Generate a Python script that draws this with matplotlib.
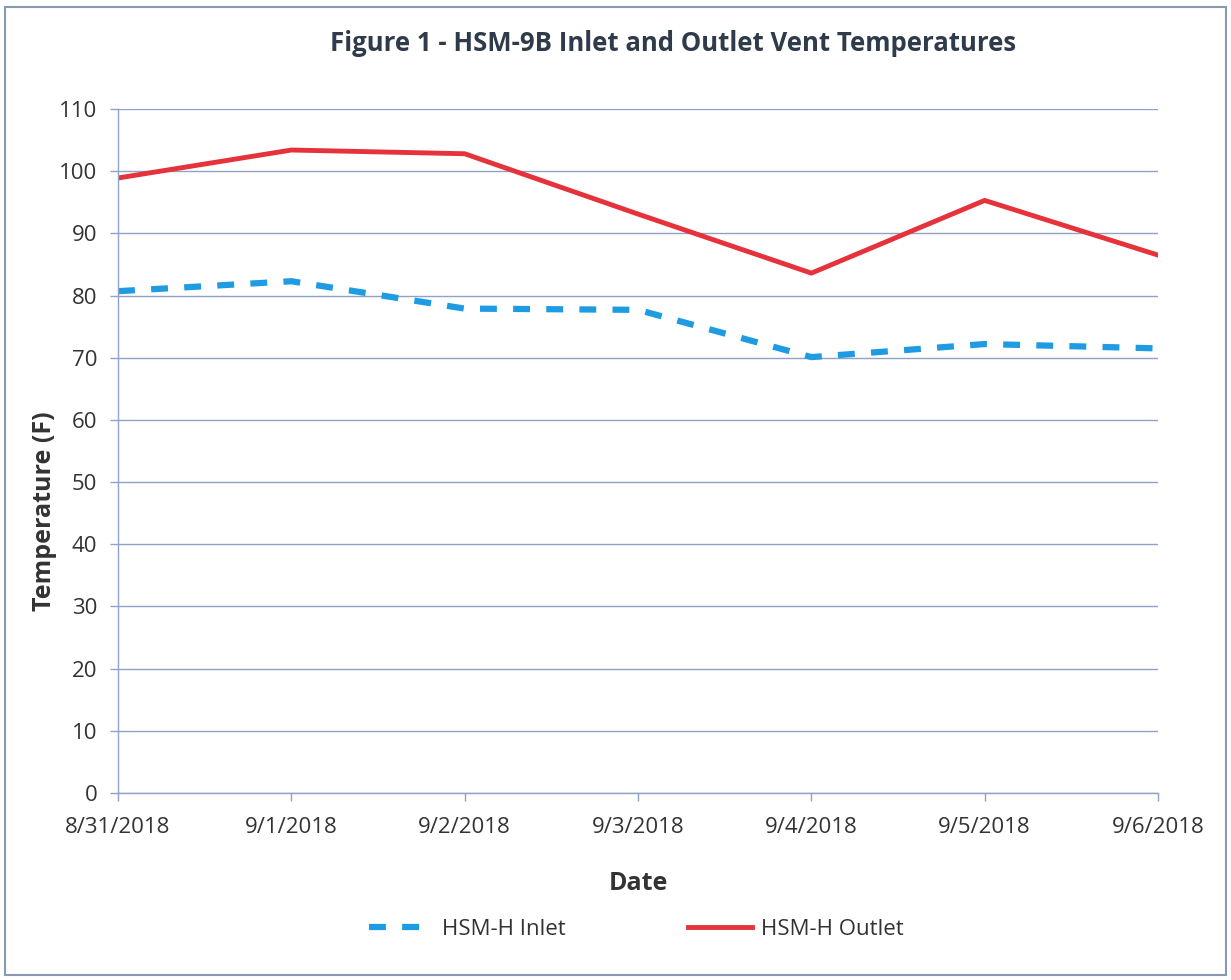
import matplotlib
matplotlib.use("Agg")
import matplotlib.pyplot as plt
from matplotlib.patches import Rectangle

dates = ["8/31/2018", "9/1/2018", "9/2/2018", "9/3/2018", "9/4/2018", "9/5/2018", "9/6/2018"]
inlet = [80.7, 82.3, 77.9, 77.7, 70.1, 72.2, 71.5]
outlet = [98.9, 103.4, 102.8, 93.1, 83.6, 95.3, 86.5]
yticks = list(range(0, 111, 10))

plt.rcParams['font.family'] = ['Open Sans', 'DejaVu Sans']
text_col = '#333333'
grid_col = '#8fa3c6'

fig = plt.figure(figsize=(12.31, 9.80), dpi=100)
ax = fig.add_axes([0.0959, 0.1908, 0.8448, 0.698])

x = list(range(len(dates)))
ax.plot(x, inlet, color='#1e9be3', lw=4.5, dashes=(2.7, 2.6), label='HSM-H Inlet')
ax.plot(x, outlet, color='#e5323b', lw=3.5, label='HSM-H Outlet')

ax.set_xlim(0, len(dates) - 1)
ax.set_ylim(0, 110)
ax.set_xticks(x)
ax.set_xticklabels(dates)
ax.set_yticks(yticks)
ax.grid(axis='y', color=grid_col, lw=1)
ax.set_axisbelow(True)
for s in ['top', 'right']:
    ax.spines[s].set_visible(False)
for s in ['left', 'bottom']:
    ax.spines[s].set_color(grid_col)
    ax.spines[s].set_linewidth(1)
ax.tick_params(axis='both', colors=grid_col, labelcolor=text_col, labelsize=16, length=6, width=1)
ax.tick_params(axis='x', pad=11)
ax.tick_params(axis='y', pad=9)

ax.set_xlabel('Date', fontsize=18, fontweight='bold', color=text_col, labelpad=24)
ax.set_ylabel('Temperature (F)', fontsize=18, fontweight='bold', color=text_col)
ax.yaxis.set_label_coords(-0.059, 0.412)
fig.text(0.547, 0.956, 'Figure 1 - HSM-9B Inlet and Outlet Vent Temperatures',
         ha='center', va='center', fontsize=18.5, fontweight='bold', color='#2f3b4a')

leg = fig.legend(loc='center', bbox_to_anchor=(0.517, 0.052), ncol=2, frameon=False,
                 fontsize=16, handlelength=2.9, columnspacing=5.5, handletextpad=0.4)
for t in leg.get_texts():
    t.set_color(text_col)

fig.patches.append(Rectangle((0.004, 0.005), 0.992, 0.988, transform=fig.transFigure,
                             fill=False, edgecolor='#8a99b0', lw=1.5))

fig.savefig('out.png', dpi=100, facecolor='white')
